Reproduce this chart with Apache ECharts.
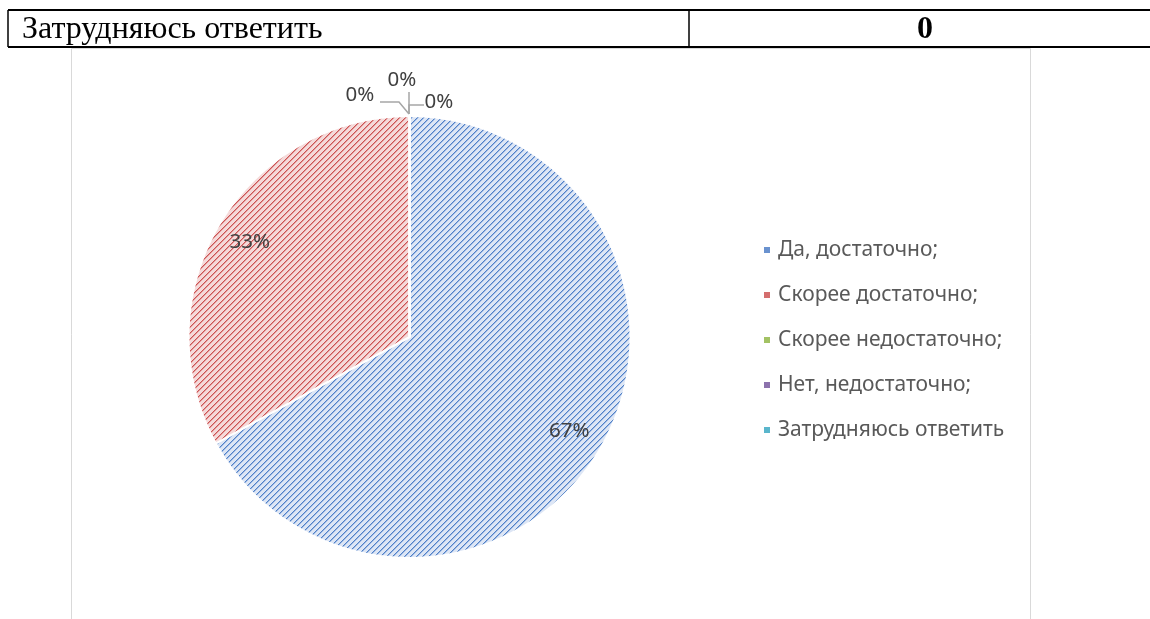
<!DOCTYPE html>
<html>
<head>
<meta charset="utf-8">
<script src="https://cdn.jsdelivr.net/npm/echarts@6/dist/echarts.min.js"></script>
<style>
html,body{margin:0;padding:0;background:#fff;}
#chart{width:1150px;height:619px;}
</style>
</head>
<body>
<div id="chart"></div>
<script>
// ---- data ----
const categories = ['Да, достаточно;', 'Скорее достаточно;', 'Скорее недостаточно;', 'Нет, недостаточно;', 'Затрудняюсь ответить'];
const values = [67, 33, 0, 0, 0];
const tableLabel = 'Затрудняюсь ответить';
const tableValue = '0';

// ---- styles ----
const stripeColors = ['#4f80c8', '#cc5252', '#8fb24e', '#7a5e9e', '#44a7c0'];
const midColors = ['#9db8e2', '#e29a9a', '#c3d7a0', '#b8a9cf', '#9fd3e1'];
const bgColors = ['#dde6f5', '#f5dada', '#e8f0d8', '#e2dcec', '#d8eef4'];
const solidColors = ['#6a92cf', '#d46e6e', '#a3c264', '#8c72ad', '#5ab6cc'];

function makePattern(fg, mid, bg) {
  const c = document.createElement('canvas');
  const p = 6;
  c.width = p; c.height = p;
  const ctx = c.getContext('2d');
  ctx.fillStyle = bg; ctx.fillRect(0, 0, p, p);
  for (let x = 0; x < p; x++) {
    for (let y = 0; y < p; y++) {
      const m = (x + y) % p;
      if (m === 0) { ctx.fillStyle = fg; ctx.fillRect(x, y, 1, 1); }
      else if (m === 1) { ctx.fillStyle = mid; ctx.fillRect(x, y, 1, 1); }
    }
  }
  return { image: c, repeat: 'repeat' };
}

const CX = 409.5, CY = 337, R = 221;
const total = values.reduce((a, b) => a + b, 0);

const chart = echarts.init(document.getElementById('chart'), null, { renderer: 'canvas' });

const zeroLayouts = {
  2: { x: 360, y: 95, line: [[409, 114], [399, 102], [380, 102]] },
  3: { x: 402, y: 80, line: [[409, 114], [409, 92]] },
  4: { x: 439, y: 102, line: [[409, 114], [409, 105], [424, 105]] }
};

chart.setOption({
  animation: false,
  backgroundColor: '#fff',
  graphic: [
    // table row lines
    { type: 'line', shape: { x1: 8, y1: 10, x2: 1150, y2: 10 }, style: { stroke: '#000', lineWidth: 2 } },
    { type: 'line', shape: { x1: 8, y1: 47, x2: 1150, y2: 47 }, style: { stroke: '#000', lineWidth: 2 } },
    { type: 'line', shape: { x1: 8, y1: 10, x2: 8, y2: 47 }, style: { stroke: '#000', lineWidth: 1.5 } },
    { type: 'line', shape: { x1: 689, y1: 10, x2: 689, y2: 47 }, style: { stroke: '#000', lineWidth: 1.5 } },
    { type: 'text', left: 22, top: 14, style: { text: tableLabel, font: '32px "Liberation Serif"', fill: '#000' } },
    { type: 'text', left: 917, top: 14, style: { text: tableValue, font: 'bold 32px "Liberation Serif"', fill: '#000' } },
    // chart frame
    { type: 'rect', shape: { x: 71.5, y: 48.5, width: 959, height: 620 }, style: { fill: 'none', stroke: '#d9d9d9', lineWidth: 1 }, z: -1 }
  ],
  legend: {
    orient: 'vertical',
    left: 762,
    top: 237.5,
    padding: 0,
    icon: 'rect',
    itemWidth: 8,
    itemHeight: 8,
    itemGap: 20,
    textStyle: { fontFamily: 'Noto Sans', fontSize: 21, color: '#595959', lineHeight: 25, padding: [0, 0, 0, 2] },
    data: categories.map((n, i) => ({ name: n, itemStyle: { color: solidColors[i] } }))
  },
  series: [{
    type: 'pie',
    center: [CX, CY],
    radius: [0, R],
    startAngle: 90,
    clockwise: true,
    minAngle: 0,
    avoidLabelOverlap: false,
    stillShowZeroSum: true,
    itemStyle: { borderColor: '#fff', borderWidth: 2 },
    label: {
      show: true,
      formatter: p => Math.round(p.percent) + '%',
      fontFamily: 'Noto Sans',
      fontSize: 20.5,
      color: '#404040'
    },
    labelLine: { show: true, lineStyle: { color: '#a6a6a6', width: 1.5 }, length: 10, length2: 10 },
    labelLayout: function (params) {
      const i = params.dataIndex;
      if (zeroLayouts[i]) {
        const z = zeroLayouts[i];
        return { x: z.x, y: z.y, align: 'center', verticalAlign: 'middle', labelLinePoints: z.line };
      }
      let cum = 0;
      for (let k = 0; k < i; k++) cum += values[k];
      const mid = (cum + values[i] / 2) / total * Math.PI * 2;
      const d = 0.84 * R;
      return {
        x: CX + d * Math.sin(mid),
        y: CY - d * Math.cos(mid),
        align: 'center', verticalAlign: 'middle',
        labelLinePoints: [[0, 0], [0, 0], [0, 0]]
      };
    },
    data: categories.map((n, i) => ({
      name: n,
      value: values[i],
      itemStyle: { color: makePattern(stripeColors[i], midColors[i], bgColors[i]) },
      labelLine: { show: values[i] === 0 }
    }))
  }]
});
</script>
</body>
</html>
